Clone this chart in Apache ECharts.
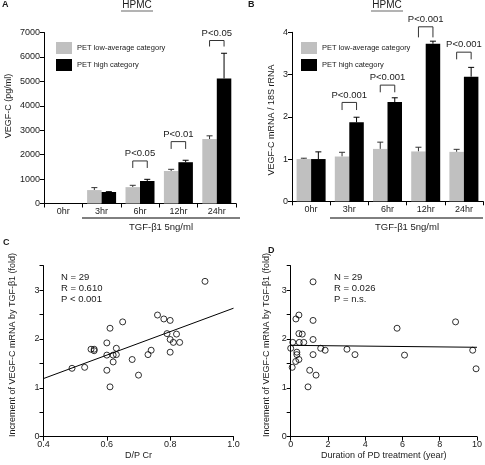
<!DOCTYPE html>
<html><head><meta charset="utf-8">
<script src="https://cdn.jsdelivr.net/npm/echarts@6/dist/echarts.min.js"></script>
<style>html,body{margin:0;padding:0;background:#fff}#c{width:485px;height:465px}</style>
</head><body><div id="c"></div>
<script>
// ---------- DATA ----------
const categories = ['0hr', '3hr', '6hr', '12hr', '24hr'];
const seriesNames = ['PET low-average category', 'PET high category'];
// Panel A: VEGF-C (pg/ml)
const aLow = [null, 550, 670, 1330, 2640];
const aLowErr = [0, 100, 75, 70, 130];
const aHigh = [null, 470, 920, 1690, 5120];
const aHighErr = [0, 15, 70, 80, 1030];
const aBracketCat = [2, 3, 4];
const aBracketLow = [1455, 2234, 6426];
const aBracketHigh = [1742, 2533, 6672];
const aBracketText = ['P<0.05', 'P<0.01', 'P<0.05'];
const aYTicks = [0, 7000, 1000];
// Panel B: VEGF-C mRNA / 18S rRNA
const bLow = [1.0, 1.06, 1.24, 1.18, 1.17];
const bLowErr = [0.02, 0.10, 0.16, 0.10, 0.06];
const bHigh = [1.0, 1.87, 2.35, 3.73, 2.95];
const bHighErr = [0.17, 0.12, 0.10, 0.06, 0.22];
const bBracketCat = [1, 2, 3, 4];
const bBracketLow = [2.16, 2.58, 3.88, 3.36];
const bBracketHigh = [2.34, 2.75, 4.13, 3.53];
const bBracketText = ['P<0.001', 'P<0.001', 'P<0.001', 'P<0.001'];
const bYTicks = [0, 4, 1];
// Panel C: D/P Cr vs increment
const cX = [0.49, 0.53, 0.55, 0.56, 0.56, 0.61, 0.65, 0.60, 0.60, 0.63, 0.62, 0.63, 0.62, 0.60, 0.61, 0.68, 0.70, 0.73, 0.74, 0.76, 0.78, 0.80, 0.79, 0.82, 0.80, 0.81, 0.83, 0.80, 0.91];
const cY = [1.40, 1.42, 1.79, 1.79, 1.76, 2.22, 2.35, 1.92, 1.67, 1.81, 1.67, 1.68, 1.53, 1.36, 1.02, 1.58, 1.26, 1.68, 1.77, 2.49, 2.41, 2.38, 2.11, 2.10, 1.99, 1.93, 1.93, 1.73, 3.18];
const cFitX = [0.4, 1.0];
const cFitY = [1.19, 2.63];
const cStats = ['N = 29', 'R = 0.610', 'P < 0.001'];
// Panel D: duration of PD vs increment
const dX = [1.20, 0.28, 0.44, 1.20, 0.44, 0.62, 1.20, 0.11, 0.46, 0.70, 0.00, 0.33, 0.33, 0.44, 0.27, 1.20, 1.61, 1.85, 0.08, 1.02, 1.36, 0.93, 3.02, 3.45, 5.71, 6.11, 8.85, 9.77, 9.95];
const dY = [3.17, 2.41, 2.49, 2.38, 2.11, 2.10, 1.99, 1.93, 1.93, 1.93, 1.81, 1.73, 1.68, 1.58, 1.54, 1.68, 1.81, 1.77, 1.42, 1.36, 1.26, 1.02, 1.79, 1.68, 2.22, 1.67, 2.35, 1.77, 1.39];
const dFitX = [0, 10];
const dFitY = [1.87, 1.83];
const dStats = ['N = 29', 'R = 0.026', 'P = n.s.'];
const yTitleCD = 'Increment of VEGF-C mRNA by TGF-β1 (fold)';

// ---------- STYLE ----------
const FONT = "'Liberation Sans', Arial, Helvetica, sans-serif";
const TXT = '#1a1a1a';
const GRAY = '#c0c0c0';
const BARW = 14.5;
const FS = 9;

const chart = echarts.init(document.getElementById('c'), null, {renderer: 'canvas'});

function catAxis(gi) {
  return {
    type: 'category', gridIndex: gi, data: categories,
    axisLine: {lineStyle: {color: '#000', width: 1}},
    axisTick: {show: true, length: 4, lineStyle: {color: '#000'}},
    axisLabel: {fontSize: FS, fontFamily: FONT, color: TXT, margin: 4}
  };
}
function valAxis(gi, t, fmt) {
  return {
    type: 'value', gridIndex: gi, min: t[0], max: t[1], interval: t[2],
    axisLine: {show: true, lineStyle: {color: '#000', width: 1}},
    axisTick: {show: true, length: 4, lineStyle: {color: '#000'}},
    splitLine: {show: false},
    axisLabel: {fontSize: FS, fontFamily: FONT, color: TXT, margin: 4, formatter: fmt}
  };
}

function errSeries(gi, vals, errs, side, color) {
  return {
    type: 'custom', xAxisIndex: gi, yAxisIndex: gi, silent: true, z: 1,
    data: vals.map((v, i) => [i, v, errs[i]]).filter(d => d[1] != null),
    renderItem: function (params, api) {
      const base = api.coord([api.value(0), api.value(1)]);
      const top = api.coord([api.value(0), api.value(1) + api.value(2)]);
      const x = base[0] + side * BARW / 2;
      return {type: 'group', children: [
        {type: 'line', shape: {x1: x, y1: base[1], x2: x, y2: top[1]}, style: {stroke: color, lineWidth: 1}},
        {type: 'line', shape: {x1: x - 3, y1: top[1], x2: x + 3, y2: top[1]}, style: {stroke: color, lineWidth: 1}}
      ]};
    }
  };
}
function bracketSeries(gi, cats, lows, highs, texts) {
  return {
    type: 'custom', xAxisIndex: gi, yAxisIndex: gi, silent: true, clip: false,
    data: cats.map((c, i) => [c, lows[i], highs[i], i]),
    renderItem: function (params, api) {
      const lo = api.coord([api.value(0), api.value(1)]);
      const hi = api.coord([api.value(0), api.value(2)]);
      const x1 = lo[0] - BARW / 2, x2 = lo[0] + BARW / 2;
      return {type: 'group', children: [
        {type: 'polyline', shape: {points: [[x1, lo[1]], [x1, hi[1]], [x2, hi[1]], [x2, lo[1]]]}, style: {stroke: '#333', lineWidth: 1, fill: null}},
        {type: 'text', style: {text: texts[api.value(3)], x: lo[0], y: hi[1] - 7.5, align: 'center', verticalAlign: 'middle', font: '9.5px ' + FONT, fill: TXT}}
      ]};
    }
  };
}
function barSeries(gi, name, vals, color) {
  return {type: 'bar', name: name, xAxisIndex: gi, yAxisIndex: gi, data: vals.map(v => v == null ? '-' : v),
    barWidth: BARW, barGap: '0%', itemStyle: {color: color}, z: 2};
}
function scatterSeries(gi, xs, ys) {
  return {type: 'scatter', xAxisIndex: gi, yAxisIndex: gi, data: xs.map((x, i) => [x, ys[i]]),
    symbol: 'circle', symbolSize: 6,
    itemStyle: {color: 'rgba(0,0,0,0)', borderColor: '#000', borderWidth: 1}, z: 3};
}
function fitSeries(gi, xs, ys) {
  return {type: 'line', xAxisIndex: gi, yAxisIndex: gi, data: xs.map((x, i) => [x, ys[i]]),
    symbol: 'none', lineStyle: {color: '#000', width: 1}, z: 2};
}
function txt(x, y, s, size, opts) {
  return {type: 'text', x: x, y: y, style: Object.assign({text: s, font: (size || 9) + 'px ' + FONT, fill: TXT, textAlign: 'left', textVerticalAlign: 'middle'}, (opts || {}))};
}
function vtxt(x, y, s, size) {
  return {type: 'text', x: x, y: y, rotation: Math.PI / 2,
    style: {text: s, font: size + 'px ' + FONT, fill: TXT, textAlign: 'center', textVerticalAlign: 'middle'}};
}
function line(x1, y1, x2, y2, color, w) {
  return {type: 'line', shape: {x1: x1, y1: y1, x2: x2, y2: y2}, style: {stroke: color || '#000', lineWidth: w || 1}};
}

const legendBase = {orient: 'vertical', itemWidth: 16, itemHeight: 12, itemGap: 5, icon: 'rect',
  textStyle: {fontSize: 7.5, fontFamily: FONT, color: TXT}, data: seriesNames, selectedMode: false};
const intOnly = v => (v % 1 === 0 ? String(v) : '');

const option = {
  animation: false,
  backgroundColor: '#fff',
  textStyle: {fontFamily: FONT},
  grid: [
    {left: 44, top: 32.5, width: 192, height: 171},
    {left: 292, top: 32.3, width: 191, height: 169},
    {left: 43.5, top: 265.7, width: 190, height: 171},
    {left: 290.7, top: 265.7, width: 188.6, height: 171}
  ],
  legend: [
    Object.assign({left: 51, top: 37}, legendBase),
    Object.assign({left: 296, top: 37}, legendBase)
  ],
  xAxis: [
    catAxis(0), catAxis(1),
    {type: 'value', gridIndex: 2, min: 0.4, max: 1.0, interval: 0.2, name: 'D/P Cr', nameLocation: 'middle', nameGap: 14,
      nameTextStyle: {fontSize: FS, fontFamily: FONT, color: TXT},
      axisLine: {lineStyle: {color: '#000'}}, axisTick: {length: 4, lineStyle: {color: '#000'}}, splitLine: {show: false},
      axisLabel: {fontSize: FS, fontFamily: FONT, color: TXT, margin: 3, formatter: v => v.toFixed(1)}},
    {type: 'value', gridIndex: 3, min: 0, max: 10, interval: 2, name: 'Duration of PD treatment (year)', nameLocation: 'middle', nameGap: 14,
      nameTextStyle: {fontSize: FS, fontFamily: FONT, color: TXT},
      axisLine: {lineStyle: {color: '#000'}}, axisTick: {length: 4, lineStyle: {color: '#000'}}, splitLine: {show: false},
      axisLabel: {fontSize: FS, fontFamily: FONT, color: TXT, margin: 3}}
  ],
  yAxis: [
    valAxis(0, aYTicks, v => String(v)),
    valAxis(1, bYTicks, v => String(v)),
    valAxis(2, [0, 3.5, 0.5], intOnly),
    valAxis(3, [0, 3.5, 0.5], intOnly)
  ],
  series: [
    barSeries(0, seriesNames[0], aLow, GRAY),
    barSeries(0, seriesNames[1], aHigh, '#000'),
    errSeries(0, aLow, aLowErr, -1, '#333'),
    errSeries(0, aHigh, aHighErr, 1, '#000'),
    bracketSeries(0, aBracketCat, aBracketLow, aBracketHigh, aBracketText),
    barSeries(1, seriesNames[0], bLow, GRAY),
    barSeries(1, seriesNames[1], bHigh, '#000'),
    errSeries(1, bLow, bLowErr, -1, '#333'),
    errSeries(1, bHigh, bHighErr, 1, '#000'),
    bracketSeries(1, bBracketCat, bBracketLow, bBracketHigh, bBracketText),
    scatterSeries(2, cX, cY),
    fitSeries(2, cFitX, cFitY),
    scatterSeries(3, dX, dY),
    fitSeries(3, dFitX, dFitY)
  ],
  graphic: [
    txt(2, 5, 'A', 9, {font: 'bold 9px ' + FONT}),
    txt(137, 5, 'HPMC', 10, {textAlign: 'center'}),
    line(121, 11, 153, 11, '#9a9a9a', 1.5),
    line(82, 218, 240, 218, '#000', 1),
    txt(161, 227, 'TGF-β1 5ng/ml', 9.5, {textAlign: 'center'}),
    vtxt(8.5, 106, 'VEGF-C (pg/ml)', FS),
    txt(248, 5, 'B', 9, {font: 'bold 9px ' + FONT}),
    txt(387, 5, 'HPMC', 10, {textAlign: 'center'}),
    line(371, 11, 403, 11, '#9a9a9a', 1.5),
    line(330, 218, 483, 218, '#000', 1),
    txt(407, 227, 'TGF-β1 5ng/ml', 9.5, {textAlign: 'center'}),
    vtxt(271.5, 120, 'VEGF-C mRNA / 18S rRNA', FS),
    txt(3, 243, 'C', 9, {font: 'bold 9px ' + FONT}),
    vtxt(13, 345, yTitleCD, FS),
    txt(61, 277, cStats[0], 9.5), txt(61, 288, cStats[1], 9.5), txt(61, 299, cStats[2], 9.5),
    txt(268, 251, 'D', 9, {font: 'bold 9px ' + FONT}),
    vtxt(266.5, 345, yTitleCD, FS),
    txt(334, 277, dStats[0], 9.5), txt(334, 288, dStats[1], 9.5), txt(334, 299, dStats[2], 9.5)
  ]
};
chart.setOption(option);
</script></body></html>
